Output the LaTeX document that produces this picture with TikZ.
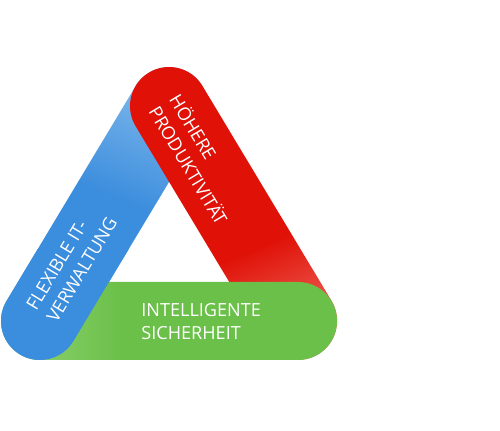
\documentclass[tikz,border=0pt]{standalone}
\usepackage{fontspec}
\setmainfont{Open Sans}
\usetikzlibrary{calc}
\definecolor{itblue}{RGB}{59,141,221}
\definecolor{itbluelight}{RGB}{150,198,240}
\definecolor{prodred}{RGB}{224,18,8}
\definecolor{prodredlight}{RGB}{240,110,100}
\definecolor{secgreen}{RGB}{106,192,72}
\definecolor{secgreenlight}{RGB}{150,212,120}
\pgfdeclarehorizontalshading{bluefade}{100bp}{color(0bp)=(itblue); color(53bp)=(itblue); color(80bp)=(itbluelight); color(100bp)=(itbluelight)}
\pgfdeclarehorizontalshading{redfade}{100bp}{color(0bp)=(prodred); color(57bp)=(prodred); color(75bp)=(prodredlight); color(100bp)=(prodredlight)}
\pgfdeclarehorizontalshading{greenfade}{100bp}{color(0bp)=(secgreenlight); color(25bp)=(secgreenlight); color(43bp)=(secgreen); color(100bp)=(secgreen)}

\begin{document}
\begin{tikzpicture}[
  x=0.02cm, y=-0.02cm,
  band/.style={rounded corners=0.78cm},
  lbl/.style={text=white, align=left, inner sep=0pt,
              font=\fontsize{10.3}{13.6}\selectfont}
]
\useasboundingbox (0,0) rectangle (500,431);
\coordinate (bl) at (40,321);
\coordinate (top) at (169,106);
\coordinate (br) at (298,321);

% blue band, left side
\begin{scope}[shift={(bl)}, rotate=59]
  \shade[band, shading=bluefade, shading angle=67] (-39,-39) rectangle (289.7,39);
\end{scope}
% red band, right side (over blue)
\begin{scope}[shift={(top)}, rotate=-59]
  \shade[band, shading=redfade, shading angle=-67] (-39,-39) rectangle (289.7,39);
\end{scope}
% green band, bottom (over red)
\shade[band, shading=greenfade] ($(bl)+(-39,-39)$) rectangle ($(br)+(39,39)$);
% blue again over the left end of green
\begin{scope}
  \clip (0,250) rectangle (170,431);
  \begin{scope}[shift={(bl)}, rotate=59]
    \shade[band, shading=bluefade, shading angle=67] (-39,-39) rectangle (289.7,39);
  \end{scope}
\end{scope}

\node[lbl, rotate=59, anchor=west]  (flex) at (41,314.6) {FLEXIBLE IT-\\VERWALTUNG};
\node[lbl, rotate=-59, anchor=west] (prod) at (165,101.4) {HÖHERE\\PRODUKTIVITÄT};
\node[lbl, anchor=west]             (sec)  at (141,321.5) {INTELLIGENTE\\SICHERHEIT};
\end{tikzpicture}
\end{document}
